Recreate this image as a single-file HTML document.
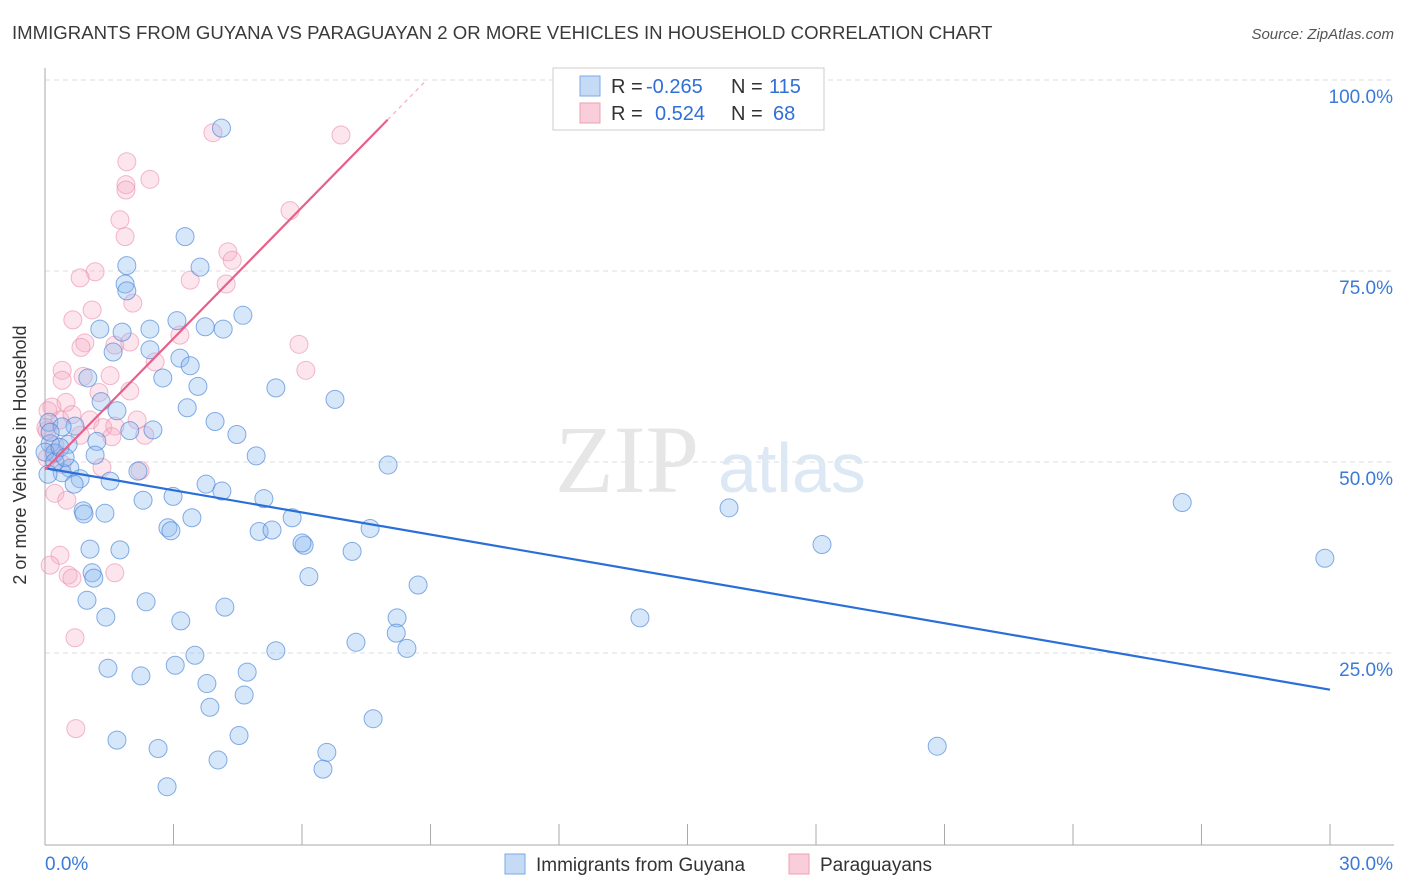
<!DOCTYPE html>
<html><head><meta charset="utf-8">
<style>
body{margin:0;background:#fff;font-family:"Liberation Sans",sans-serif;}
svg{display:block}
</style></head>
<body>
<svg width="1406" height="892" viewBox="0 0 1406 892">
<text x="12" y="39" font-size="18.6" fill="#3a3a3a">IMMIGRANTS FROM GUYANA VS PARAGUAYAN 2 OR MORE VEHICLES IN HOUSEHOLD CORRELATION CHART</text>
<text x="1394" y="39" font-size="15" fill="#555" font-style="italic" text-anchor="end">Source: ZipAtlas.com</text>
<g id="grid"></g>
<text x="555" y="492" font-size="96" fill="#e6e6e6" font-family="Liberation Serif,serif">ZIP</text>
<text x="718" y="492" font-size="70" fill="#dde8f5">atlas</text>
<g id="axes"></g>
<g id="pts"></g>
<g id="trends"></g>
<text x="26" y="455" font-size="18" fill="#333" text-anchor="middle" transform="rotate(-90 26 455)">2 or more Vehicles in Household</text>
<g font-size="20">
<rect x="553" y="68" width="271" height="62" fill="#fff" stroke="#ccc"/>
<rect x="580" y="76" width="20" height="20" fill="#c5dbf5" stroke="#7aa8e6"/>
<rect x="580" y="103" width="20" height="20" fill="#f9cdd9" stroke="#eba1b6"/>
<text x="611" y="93" fill="#333">R =</text>
<text x="646" y="93" fill="#2f6fd6">-0.265</text>
<text x="731" y="93" fill="#333">N =</text>
<text x="769" y="93" fill="#2f6fd6">115</text>
<text x="611" y="120" fill="#333">R =</text>
<text x="655" y="120" fill="#2f6fd6">0.524</text>
<text x="731" y="120" fill="#333">N =</text>
<text x="773" y="120" fill="#2f6fd6">68</text>
</g>
<g>
<rect x="505" y="854" width="20" height="20" fill="#c5dbf5" stroke="#7aa8e6"/>
<text x="536" y="871" font-size="19" fill="#333">Immigrants from Guyana</text>
<rect x="789" y="854" width="20" height="20" fill="#f9cdd9" stroke="#eba1b6"/>
<text x="820" y="871" font-size="19" fill="#333">Paraguayans</text>
</g>
</svg>
<script>
const xTicks=[0,3,6,9,12,15,18,21,24,27,30];
const yTicks=[25,50,75,100];
const yTickLabels=["25.0%","50.0%","75.0%","100.0%"];
const guyanaX=[4.12,3.27,1.91,3.62,1.87,1.91,1.28,1.80,2.45,3.08,3.74,4.16,4.62,1.59,2.45,3.15,3.39,2.75,1.00,3.57,5.39,6.77,1.31,1.68,3.32,3.97,4.48,2.52,1.98,0.70,0.09,0.40,0.12,0.54,0.23,1.21,1.17,0.58,0.40,0.82,1.52,2.17,0.68,3.76,4.13,4.93,5.11,8.01,2.29,2.99,0.89,0.91,1.40,3.43,2.87,2.94,5.00,5.30,5.77,6.05,6.00,7.59,7.17,1.05,1.75,15.97,18.14,26.55,29.88,1.10,1.14,6.16,8.71,0.98,2.36,4.20,1.42,3.17,8.22,8.20,7.26,8.45,13.89,5.39,3.50,1.47,2.24,3.04,4.72,3.78,4.65,3.85,7.66,1.68,4.53,2.64,6.58,6.49,4.04,2.85,20.83,0.12,0.00,0.23,0.35,0.47,0.07];
const guyanaY=[93.7,79.5,75.7,75.5,73.3,72.4,67.4,67.0,67.4,68.5,67.7,67.4,69.2,64.4,64.7,63.6,62.6,61.0,61.0,59.9,59.7,58.2,57.9,56.7,57.1,55.3,53.6,54.2,54.1,54.7,55.2,54.6,52.4,52.3,51.2,52.7,50.9,49.2,48.6,47.8,47.5,48.8,47.1,47.1,46.2,50.8,45.2,49.6,45.0,45.5,43.6,43.2,43.3,42.7,41.4,41.0,40.9,41.1,42.7,39.1,39.4,41.3,38.3,38.6,38.5,44.0,39.2,44.7,37.4,35.5,34.8,35.0,33.9,31.9,31.7,31.0,29.7,29.2,29.6,27.6,26.4,25.6,29.6,25.3,24.7,23.0,22.0,23.4,22.5,21.0,19.5,17.9,16.4,13.6,14.2,12.5,12.0,9.8,11.0,7.5,12.8,53.9,51.3,50.0,51.9,50.6,48.4];
const paraX=[3.92,6.91,1.89,2.45,1.89,1.91,1.75,1.87,5.72,4.27,4.37,3.39,4.23,1.17,0.82,0.65,1.10,2.05,3.15,0.93,0.84,1.63,1.98,5.93,6.09,2.57,1.52,0.89,0.40,0.40,1.26,1.98,0.49,0.16,0.02,0.35,0.63,1.05,1.35,1.63,2.15,2.33,1.56,0.82,0.05,0.21,0.05,0.40,1.33,2.22,0.23,0.51,0.35,0.12,0.54,0.63,1.63,0.70,0.72,0.07,0.23];
const paraY=[93.1,92.8,86.3,87.0,85.6,89.3,81.7,79.5,82.9,77.5,76.4,73.8,73.3,74.9,74.1,68.6,69.9,70.8,66.6,65.6,65.0,65.3,65.7,65.4,62.0,63.1,61.3,61.2,62.0,60.7,59.1,59.3,57.8,57.2,54.5,55.5,56.2,55.5,54.5,54.7,55.5,53.5,53.3,53.5,54.1,51.1,50.5,49.7,49.3,48.9,45.9,45.0,37.8,36.5,35.2,34.8,35.5,27.0,15.1,56.7,52.2];
const guyTrend=[49.2,20.2];
const paraTrend=[49.0,94.8];
const NS="http://www.w3.org/2000/svg";
const X0=45,XW=1285,Y0=844,YH=764;
function xs(v){return X0+v/30*XW;}
function ys(v){return Y0-v/100*YH;}
function mk(t,a,p){const e=document.createElementNS(NS,t);for(const k in a)e.setAttribute(k,a[k]);p.appendChild(e);return e;}
const grid=document.getElementById('grid');
yTicks.forEach((t,i)=>{
 const l=mk('line',{x1:X0,x2:1394,y1:ys(t),y2:ys(t),stroke:'#ddd','stroke-dasharray':'5,4'},grid);
 
 
 const tx=mk('text',{x:1393,y:ys(t)+23,'font-size':19,fill:'#3b7ad8','text-anchor':'end'},grid);
 tx.textContent=yTickLabels[i];
 
 
});
const ax=document.getElementById('axes');
mk('line',{x1:X0,x2:X0,y1:68,y2:Y0+1,stroke:'#aaa'},ax);
mk('line',{x1:X0,x2:1394,y1:Y0+1,y2:Y0+1,stroke:'#aaa'},ax);
xTicks.forEach(t=>{if(t>0){const l=mk('line',{x1:xs(t),x2:xs(t),y1:Y0-20,y2:Y0+1,stroke:'#aaa'},ax);
 
 }});
const xl0=mk('text',{x:45,y:870,'font-size':19,fill:'#3b7ad8'},ax);xl0.textContent='0.0%';


const xl1=mk('text',{x:1393,y:870,'font-size':19,fill:'#3b7ad8','text-anchor':'end'},ax);xl1.textContent='30.0%';


const pts=document.getElementById('pts');
paraX.forEach((x,i)=>{const c=mk('circle',{cx:xs(x),cy:ys(paraY[i]),r:9,fill:'rgba(246,170,195,0.3)',stroke:'rgba(235,140,170,0.6)','stroke-width':1},pts);
 
 });
guyanaX.forEach((x,i)=>{const c=mk('circle',{cx:xs(x),cy:ys(guyanaY[i]),r:9,fill:'rgba(140,185,240,0.35)',stroke:'rgba(70,130,215,0.65)','stroke-width':1},pts);
 
 });
const tr=document.getElementById('trends');
const g1=mk('line',{x1:xs(0),y1:ys(guyTrend[0]),x2:xs(30),y2:ys(guyTrend[1]),stroke:'#2a6fd8','stroke-width':2.2},tr);


const p1=mk('line',{x1:xs(0),y1:ys(paraTrend[0]),x2:xs(8),y2:ys(paraTrend[1]),stroke:'#e8608a','stroke-width':2.2},tr);


const slope=(paraTrend[1]-paraTrend[0])/8, xe=(100-paraTrend[0])/slope;
const p2=mk('line',{x1:xs(8),y1:ys(paraTrend[1]),x2:xs(xe),y2:ys(100),stroke:'#f0b0c4','stroke-width':1.2,'stroke-dasharray':'4,4'},tr);


</script>
</body></html>
